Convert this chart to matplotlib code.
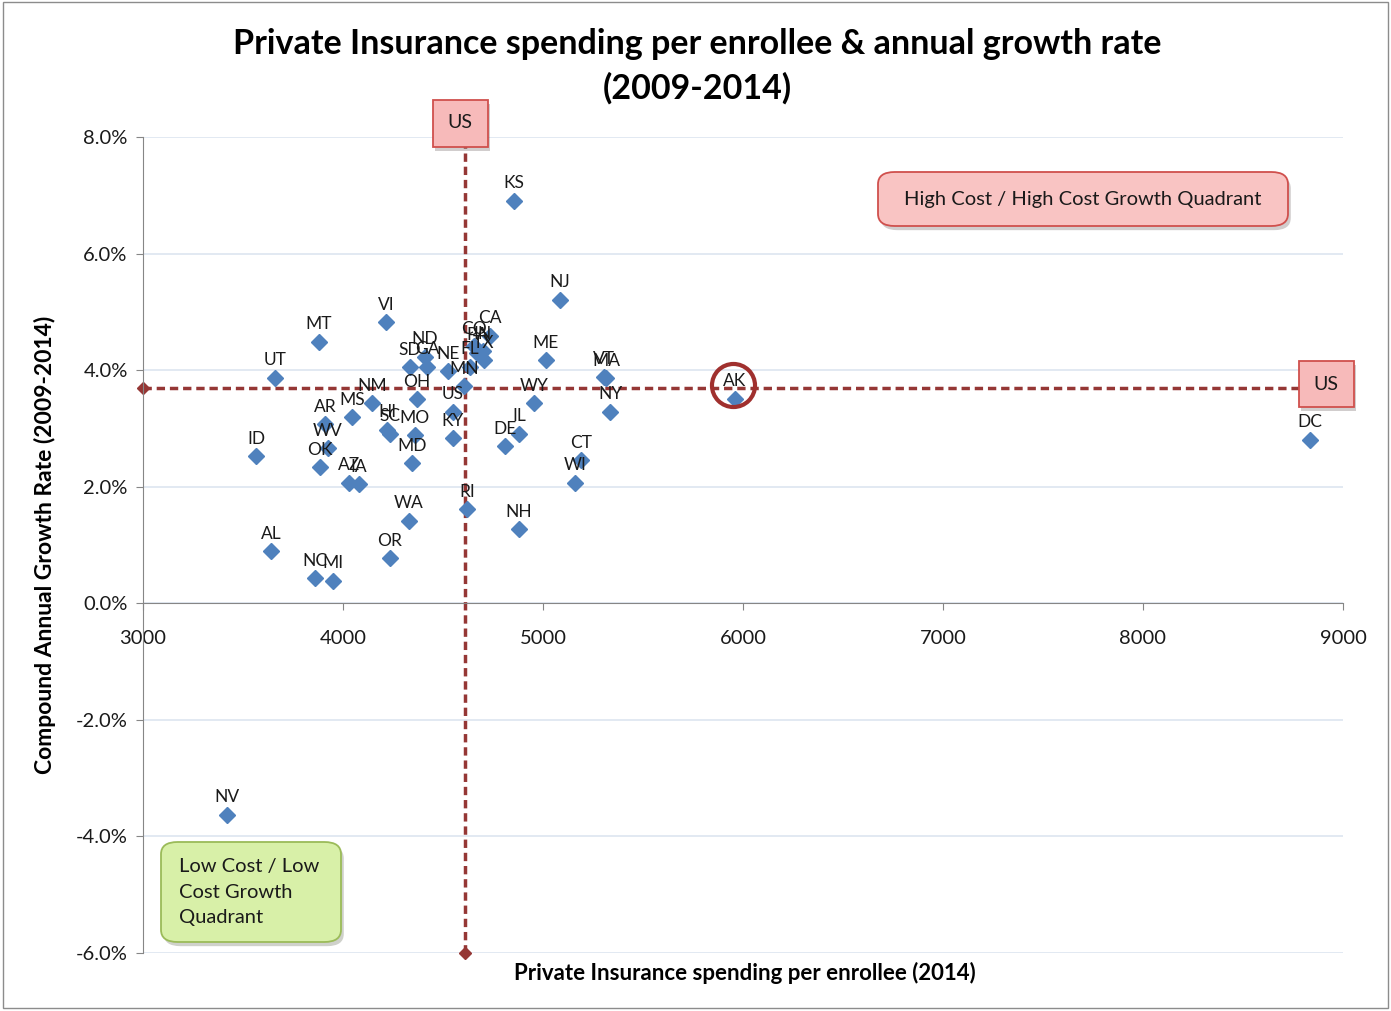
import matplotlib
matplotlib.use('Agg')
import matplotlib.pyplot as plt
import matplotlib.patheffects as pe
import matplotlib.transforms as mtransforms
from matplotlib.patches import FancyBboxPatch, Rectangle
from matplotlib.ticker import FuncFormatter
import numpy as np

plt.rcParams['font.family'] = ['Lato', 'DejaVu Sans']

# spending per enrollee (2014, $) and compound annual growth rate (2009-2014, %)
states = ['KS', 'NJ', 'VI', 'MT', 'UT', 'CA', 'CO', 'PA', 'IN', 'FL', 'TX',
          'ND', 'SD', 'GA', 'NE', 'MN', 'OH', 'US', 'KY', 'NM', 'MS', 'AR',
          'HI', 'SC', 'MO', 'MD', 'WV', 'OK', 'ID', 'AZ', 'IA', 'WA', 'RI',
          'NH', 'OR', 'AL', 'NC', 'MI', 'NV', 'DE', 'IL', 'WY', 'ME', 'VT',
          'MA', 'NY', 'CT', 'WI', 'AK', 'DC']
spend = [4855, 5085, 4215, 3880, 3660, 4735, 4655, 4670, 4700, 4635, 4705,
         4410, 4335, 4420, 4525, 4605, 4370, 4550, 4550, 4145, 4045, 3910,
         4220, 4235, 4360, 4345, 3925, 3885, 3565, 4030, 4080, 4330, 4620,
         4880, 4235, 3640, 3860, 3950, 3420, 4810, 4880, 4955, 5015, 5305,
         5315, 5335, 5190, 5160, 5960, 8835]
growth = [6.91, 5.21, 4.82, 4.49, 3.87, 4.59, 4.41, 4.30, 4.32, 4.06, 4.17,
          4.23, 4.05, 4.06, 3.98, 3.72, 3.50, 3.29, 2.83, 3.43, 3.19, 3.07,
          2.97, 2.91, 2.88, 2.40, 2.66, 2.33, 2.52, 2.06, 2.04, 1.41, 1.61,
          1.27, 0.77, 0.89, 0.43, 0.39, -3.63, 2.69, 2.91, 3.43, 4.17, 3.89,
          3.86, 3.29, 2.45, 2.07, 3.51, 2.81]

# US reference lines
us_spend = 4610
us_growth = 3.70

W, H = 1391, 1011
fig = plt.figure(figsize=(W / 100, H / 100), dpi=100)
ax = fig.add_axes([143 / W, 1 - 953 / H, 1200 / W, 816 / H])

ax.set_xlim(3000, 9000)
ax.set_ylim(-6, 8)
ax.set_xticks(np.arange(3000, 9001, 1000))
ax.set_yticks(np.arange(-6, 8.1, 2))
ax.yaxis.set_major_formatter(FuncFormatter(lambda v, _: f'{v:.1f}%'))
ax.yaxis.grid(True, color='#dde5f0', lw=1.2)
ax.set_axisbelow(True)
for s in ['top', 'right']:
    ax.spines[s].set_visible(False)
ax.spines['left'].set_color('#868686')
ax.spines['bottom'].set_color('#868686')
ax.spines['bottom'].set_position(('data', 0))
ax.tick_params(axis='y', direction='out', length=5, color='#868686',
               labelsize=14.5, pad=6, labelcolor='#1a1a1a')
ax.tick_params(axis='x', direction='out', length=5, color='#868686',
               labelsize=14.5, pad=14, labelcolor='#1a1a1a')

# US average dashed lines
dash_col = '#953735'
ax.plot([us_spend, us_spend], [-6, 8], ls=(0, (2.4, 1.4)), color=dash_col,
        lw=2.5, marker='D', ms=6, clip_on=False, zorder=2)
ax.plot([3000, 9000], [us_growth, us_growth], ls=(0, (2.4, 1.4)),
        color=dash_col, lw=2.5, marker='D', ms=6, clip_on=False, zorder=2)

# states
ax.plot(spend, growth, 'D', color='#4f81bd', ms=8, ls='none', zorder=3)
for s, x, y in zip(states, spend, growth):
    ax.annotate(s, (x, y), xytext=(0, 7), textcoords='offset points',
                ha='center', va='bottom', fontsize=12.5, color='#1a1a1a',
                zorder=4)

# circle around AK
i = states.index('AK')
circ_tr = mtransforms.offset_copy(ax.transData, fig=fig, x=-2, y=14,
                                  units='dots')
ax.plot(spend[i], growth[i], 'o', ms=31, mfc='none', mec='#a0302e', mew=3,
        transform=circ_tr, zorder=5)


def box(cx, cy, w, h, text, fc, ec, rounded=False, ha='center', fs=14,
        tx=None, ls=1.2):
    x0, y0 = (cx - w / 2) / W, 1 - (cy + h / 2) / H
    style = 'round,pad=0,rounding_size=0.012' if rounded else 'square,pad=0'
    p = FancyBboxPatch((x0, y0), w / W, h / H, boxstyle=style,
                       transform=fig.transFigure, fc=fc, ec=ec, lw=1.3,
                       path_effects=[pe.SimplePatchShadow(offset=(2, -3),
                                                          alpha=0.25),
                                     pe.Normal()])
    fig.add_artist(p)
    xt = cx if tx is None else tx
    fig.text(xt / W, 1 - cy / H, text, ha=ha, va='center', fontsize=fs,
             color='#1a1a1a', linespacing=ls)


box(460, 123, 55, 47, 'US', '#f7baba', '#d0504d')
box(1326, 384, 55, 46, 'US', '#f7baba', '#d0504d')
box(1083, 199, 410, 54, 'High Cost / High Cost Growth Quadrant', '#f9c4c3',
    '#d0504d', rounded=True, fs=14.5)
box(251, 892, 180, 100, 'Low Cost / Low\nCost Growth\nQuadrant', '#d8f0a8',
    '#9bbb59', rounded=True, ha='left', tx=179, fs=14.5, ls=1.6)

# titles and axis labels
fig.text(697 / W, 1 - 44 / H,
         'Private Insurance spending per enrollee & annual growth rate',
         ha='center', va='center', fontsize=24.5, fontweight='bold')
fig.text(697 / W, 1 - 88 / H, '(2009-2014)', ha='center', va='center',
         fontsize=24.5, fontweight='bold')
fig.text(745 / W, 1 - 973 / H, 'Private Insurance spending per enrollee (2014)',
         ha='center', va='center', fontsize=16, fontweight='bold')
fig.text(45 / W, 1 - 545 / H, 'Compound Annual Growth Rate (2009-2014)',
         ha='center', va='center', rotation=90, fontsize=16.5,
         fontweight='bold')

# outer chart border
fig.add_artist(Rectangle((3 / W, 1 - 1008 / H), 1385 / W, 1006 / H,
                         transform=fig.transFigure, fc='none', ec='#8c8c8c',
                         lw=1))

fig.savefig('out.png', dpi=100)
